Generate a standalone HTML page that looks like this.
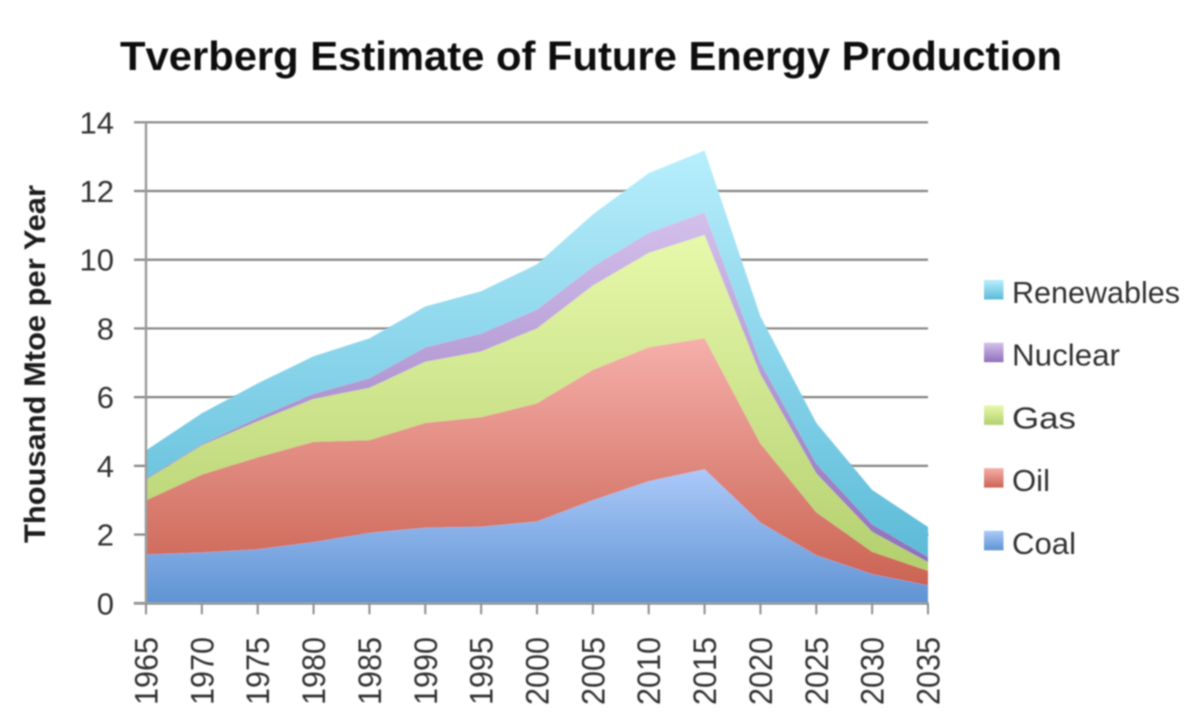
<!DOCTYPE html>
<html lang="en">
<head>
<meta charset="utf-8">
<title>Tverberg Estimate of Future Energy Production</title>
<style>
html,body{margin:0;padding:0;background:#fff;width:1200px;height:726px;overflow:hidden}
svg{display:block}
text{font-family:"Liberation Sans",sans-serif}
</style>
</head>
<body>
<svg id="chart" xmlns="http://www.w3.org/2000/svg" width="1200" height="726" viewBox="0 0 1200 726">
  <defs>
    <filter id="soft" x="-5%" y="-5%" width="110%" height="110%"><feGaussianBlur stdDeviation="0.8"/></filter>
    <filter id="softText" x="-5%" y="-5%" width="110%" height="110%"><feGaussianBlur stdDeviation="0.7"/></filter>
    <linearGradient id="grad-coal" x1="0" y1="0" x2="0" y2="1"><stop offset="0" stop-color="#abc9f9"/><stop offset="1" stop-color="#5f93d3"/></linearGradient>
    <linearGradient id="grad-oil" x1="0" y1="0" x2="0" y2="1"><stop offset="0" stop-color="#f5afaa"/><stop offset="1" stop-color="#cb6353"/></linearGradient>
    <linearGradient id="grad-gas" x1="0" y1="0" x2="0" y2="1"><stop offset="0" stop-color="#e7f9ab"/><stop offset="1" stop-color="#b3cf6e"/></linearGradient>
    <linearGradient id="grad-nuclear" x1="0" y1="0" x2="0" y2="1"><stop offset="0" stop-color="#d4c0eb"/><stop offset="1" stop-color="#8f70bb"/></linearGradient>
    <linearGradient id="grad-renewables" x1="0" y1="0" x2="0" y2="1"><stop offset="0" stop-color="#b7eefc"/><stop offset="1" stop-color="#5cbbd8"/></linearGradient>
  </defs>
  <text x="120" y="70" font-size="41" font-weight="bold" fill="#0a0a0a" textLength="942" lengthAdjust="spacingAndGlyphs" filter="url(#softText)">Tverberg Estimate of Future Energy Production</text>
  <text transform="translate(45,543) rotate(-90)" font-size="30" font-weight="bold" fill="#1c1c1c" textLength="358" lengthAdjust="spacingAndGlyphs" filter="url(#softText)">Thousand Mtoe per Year</text>
  <g id="grid" filter="url(#soft)"></g>
  <g id="areas" filter="url(#soft)"></g>
  <g id="axes" filter="url(#soft)"></g>
  <g id="ylabels" filter="url(#softText)"></g>
  <g id="xlabels" filter="url(#softText)"></g>
  <g id="legend"></g>
</svg>
<script>
const years = [1965,1970,1975,1980,1985,1990,1995,2000,2005,2010,2015,2020,2025,2030,2035];
const yTicks = [0,2,4,6,8,10,12,14];
const coal = [1.42,1.48,1.57,1.78,2.05,2.20,2.23,2.38,3.00,3.55,3.90,2.35,1.40,0.85,0.52];
const oil = [1.58,2.27,2.68,2.92,2.70,3.05,3.19,3.44,3.80,3.90,3.82,2.30,1.25,0.65,0.43];
const gas = [0.60,0.85,1.05,1.25,1.52,1.78,1.91,2.18,2.45,2.75,3.00,2.02,1.13,0.58,0.25];
const nuclear = [0.03,0.03,0.10,0.15,0.28,0.42,0.52,0.55,0.55,0.58,0.66,0.33,0.28,0.22,0.15];
const renewables = [0.82,0.90,1.00,1.09,1.16,1.19,1.23,1.32,1.52,1.74,1.80,1.35,1.19,1.00,0.87];
const seriesNames = ['Coal','Oil','Gas','Nuclear','Renewables'];
const seriesValues = [coal,oil,gas,nuclear,renewables];

const NS = 'http://www.w3.org/2000/svg';
const left = 146, right = 928, top_ = 122.3, bottom = 603.3;
function xScale(i){ return left + (right - left) * i / (years.length - 1); }
function yScale(v){ return bottom - (bottom - top_) * v / 14; }
function make(tag, attrs, parent){
  const el = document.createElementNS(NS, tag);
  for (const k in attrs) el.setAttribute(k, attrs[k]);
  parent.appendChild(el);
  return el;
}

const gridG = document.getElementById('grid');
const axesG = document.getElementById('axes');
const yl = document.getElementById('ylabels');
const xl = document.getElementById('xlabels');
const areasG = document.getElementById('areas');
const legendG = document.getElementById('legend');

yTicks.forEach(function(t){
  const line = make('line', {x1:134, x2:right, y1:yScale(t), y2:yScale(t), stroke:'#858585', 'stroke-width':2.2}, gridG);
  
  
  const label = make('text', {x:114, y:yScale(t) + 11, 'text-anchor':'end', 'font-size':31, fill:'#333'}, yl);
  
  
  label.textContent = t;
});

const baseline = years.map(function(){ return 0; });
let running = baseline.slice();
seriesValues.forEach(function(vals, s){
  const lower = running.slice();
  const upper = running.map(function(v, i){ return v + vals[i]; });
  let pts = upper.map(function(v, i){ return xScale(i).toFixed(1) + ',' + yScale(v).toFixed(1); });
  for (let i = lower.length - 1; i >= 0; i--) pts.push(xScale(i).toFixed(1) + ',' + yScale(lower[i]).toFixed(1));
  const poly = make('polygon', {points:pts.join(' '), fill:'url(#grad-' + seriesNames[s].toLowerCase() + ')'}, areasG);
  
  
  running = upper;
});

const yAxis = make('line', {x1:left, x2:left, y1:top_, y2:bottom, stroke:'#9a9a9a', 'stroke-width':2.4}, axesG);


const xAxis = make('line', {x1:134, x2:right, y1:bottom, y2:bottom, stroke:'#a0a0a0', 'stroke-width':2}, axesG);



years.forEach(function(y, i){
  const tick = make('line', {x1:xScale(i), x2:xScale(i), y1:bottom, y2:bottom + 11, stroke:'#8c8c8c', 'stroke-width':2}, axesG);
  
  
  const label = make('text', {transform:'translate(' + (xScale(i) + 11.5) + ',705) rotate(-90)', 'font-size':32, fill:'#333', textLength:68, lengthAdjust:'spacingAndGlyphs'}, xl);
  
  
  label.textContent = y;
});

const legendOrder = ['Renewables','Nuclear','Gas','Oil','Coal'];
const legendWidths = [168,108,64,38,64];
legendOrder.forEach(function(name, i){
  const y = 280 + i * 62.7;
  const swatch = make('rect', {x:984, y:y, width:19.5, height:19.5, fill:'url(#grad-' + name.toLowerCase() + ')', filter:'url(#soft)'}, legendG);
  
  
  const label = make('text', {x:1012, y:y + 23, 'font-size':31, fill:'#333', textLength:legendWidths[i], lengthAdjust:'spacingAndGlyphs', filter:'url(#softText)'}, legendG);
  
  
  label.textContent = name;
});
</script>
</body>
</html>
